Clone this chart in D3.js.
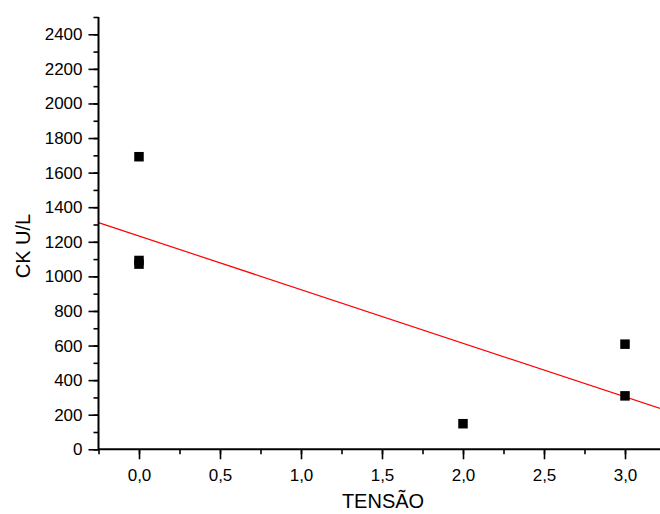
<!DOCTYPE html>
<html>
<head>
<meta charset="utf-8">
<script src="https://cdn.jsdelivr.net/npm/d3@7"></script>
<style>
  html, body { margin: 0; padding: 0; background: #fff; }
  svg { display: block; }
  text { font-family: "Liberation Sans", Arial, sans-serif; fill: #000; }
</style>
</head>
<body>
<svg id="chart" width="660" height="514"></svg>
<script>
// Data
const tensao = [0, 0, 0, 2, 3, 3];
const ck = [1692, 1092, 1071, 148, 608, 309];
const xTicks = [0, 0.5, 1.0, 1.5, 2.0, 2.5, 3.0];
const yTicks = [0, 200, 400, 600, 800, 1000, 1200, 1400, 1600, 1800, 2000, 2200, 2400];
const xTitle = "TENSÃO";
const yTitle = "CK U/L";

const svg = d3.select("#chart");
const x = d3.scaleLinear().domain([-0.25, 3.25]).range([98.5, 665.5]);
const y = d3.scaleLinear().domain([0, 2500]).range([449.3, 17]);

const fmtX = v => d3.format(".1f")(v).replace(".", ",");

// Linear regression through the points
const n = tensao.length;
const mx = d3.mean(tensao), my = d3.mean(ck);
let sxy = 0, sxx = 0;
for (let i = 0; i < n; i++) { sxy += (tensao[i]-mx)*(ck[i]-my); sxx += (tensao[i]-mx)**2; }
const slope = sxy / sxx, intercept = my - slope * mx;

// Fit line
const xd = x.domain();
svg.append("line")
  .attr("x1", x(xd[0])).attr("y1", y(intercept + slope*xd[0]))
  .attr("x2", x(xd[1])).attr("y2", y(intercept + slope*xd[1]))
  .attr("stroke", "#ff0000").attr("stroke-width", 1.2);

// Points
svg.append("g").selectAll("rect").data(tensao.map((t,i)=>[t, ck[i]])).join("rect")
  .attr("x", d => x(d[0]) - 4.75).attr("y", d => y(d[1]) - 4.75)
  .attr("width", 9.5).attr("height", 9.5).attr("fill", "#000");

// X axis
const xAxis = svg.append("g").attr("transform", `translate(0,${y(0)})`);
xAxis.call(d3.axisBottom(x).tickValues(d3.range(-0.25, 3.3, 0.25)).tickSize(5).tickFormat(""));
xAxis.call(g => g.selectAll(".tick line").attr("stroke-width", 1.6));
const xAxisMaj = svg.append("g").attr("transform", `translate(0,${y(0)})`);
xAxisMaj.call(d3.axisBottom(x).tickValues(xTicks).tickSize(10).tickPadding(7).tickFormat(fmtX));
xAxisMaj.select(".domain").remove();
xAxisMaj.selectAll(".tick line").attr("stroke-width", 1.6);
xAxisMaj.selectAll(".tick text").style("font-size", "17px").attr("dy", "0.85em");
xAxis.select(".domain").attr("stroke-width", 2).attr("d", `M${x(-0.25)},0H${x(3.25)}`);

// Y axis
const yAxis = svg.append("g").attr("transform", `translate(${x(-0.25)},0)`);
yAxis.call(d3.axisLeft(y).tickValues(d3.range(0, 2501, 100)).tickSize(5).tickFormat(""));
yAxis.selectAll(".tick line").attr("stroke-width", 1.6);
yAxis.select(".domain").attr("stroke-width", 2).attr("d", `M0,${y(2500)}V${y(0)}`);
const yAxisMaj = svg.append("g").attr("transform", `translate(${x(-0.25)},0)`);
yAxisMaj.call(d3.axisLeft(y).tickValues(yTicks).tickSize(10).tickPadding(6).tickFormat(d3.format("d")));
yAxisMaj.select(".domain").remove();
yAxisMaj.selectAll(".tick line").attr("stroke-width", 1.6);
yAxisMaj.selectAll(".tick text").style("font-size", "17px");
svg.selectAll(".domain").attr("stroke", "#000");

// Titles
svg.append("text").attr("x", 383).attr("y", 508).attr("text-anchor", "middle")
  .style("font-size", "20px").text(xTitle);
svg.append("text").attr("transform", "translate(30,246) rotate(-90)").attr("text-anchor", "middle")
  .style("font-size", "20px").text(yTitle);
</script>
</body>
</html>
